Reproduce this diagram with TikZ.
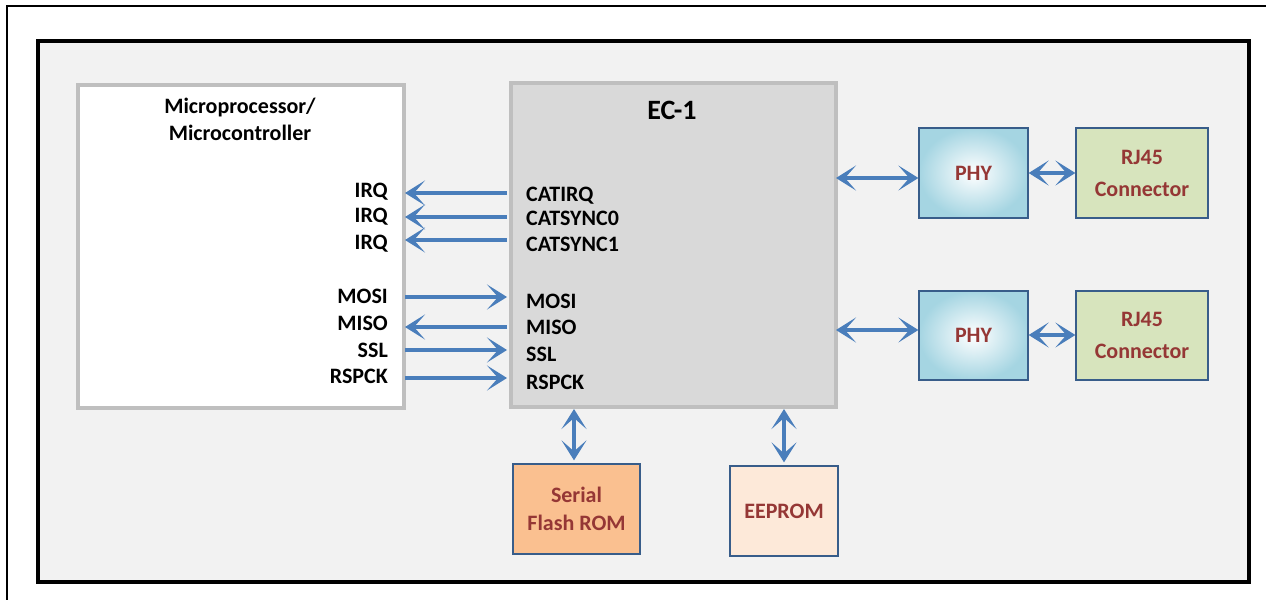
\documentclass[tikz,border=0pt]{standalone}
\usepackage{fontspec}
\setmainfont{Carlito}
\usetikzlibrary{arrows.meta}
\definecolor{arrblue}{HTML}{4A7EBB}
\definecolor{boxblue}{HTML}{385D8A}
\definecolor{txtred}{HTML}{953735}
\definecolor{edgegray}{HTML}{BFBFBF}
\definecolor{ecfill}{HTML}{D9D9D9}
\definecolor{bgfill}{HTML}{F2F2F2}
\definecolor{phyout}{HTML}{A5D5E2}
\definecolor{rjfill}{HTML}{D7E4BD}
\definecolor{romfill}{HTML}{FAC090}
\definecolor{eepfill}{HTML}{FDE9D9}
\begin{document}
\begin{tikzpicture}[x=1pt,y=-1pt,
  lbl/.style={font=\bfseries\fontsize{22}{27}\selectfont, inner sep=0pt},
  bigbox/.style={draw=edgegray, line width=4pt, inner sep=0pt},
  smallbox/.style={draw=boxblue, line width=1.3pt, inner sep=0pt, text=txtred, align=center,
     font=\bfseries\fontsize{22}{32}\selectfont},
  tip/.style={},
  arr/.style={draw=arrblue, line width=4.5pt, -{Stealth[length=20pt,width=25pt,inset=11pt]}},
  darr/.style={draw=arrblue, line width=4.5pt, {Stealth[length=20pt,width=25pt,inset=11pt]}-{Stealth[length=20pt,width=25pt,inset=11pt]}}
]
\useasboundingbox (0,0) rectangle (1266,600);
\fill[white] (0,0) rectangle (1266,600);
% outer frame
\draw[line width=2pt] (1266,6) -- (7,6) -- (7,600);
% inner frame
\draw[line width=4pt, fill=bgfill] (38,41) rectangle (1249,582);

% main boxes
\node[bigbox, fill=white, minimum width=326pt, minimum height=323pt] (mp) at (241,246.5) {};
\node[bigbox, fill=ecfill, minimum width=325pt, minimum height=324pt] (ec) at (673.5,245) {};

\node[lbl, anchor=base, align=center] (mpt) at (240,140) {Microprocessor/\\Microcontroller};
\node[lbl, anchor=base, font=\bfseries\fontsize{28}{32}\selectfont] (ect) at (672,119) {EC-1};

% small boxes
\node[smallbox, shading=radial, inner color=white, outer color=phyout, minimum width=109pt, minimum height=90pt] (phy1) at (973.5,173) {PHY};
\node[smallbox, fill=rjfill, minimum width=132pt, minimum height=90pt] (rj1) at (1142,173) {RJ45\\Connector};
\node[smallbox, shading=radial, inner color=white, outer color=phyout, minimum width=109pt, minimum height=89pt] (phy2) at (973.5,335.5) {PHY};
\node[smallbox, fill=rjfill, minimum width=132pt, minimum height=89pt] (rj2) at (1142,335.5) {RJ45\\Connector};
\node[smallbox, fill=romfill, minimum width=127pt, minimum height=90pt, font=\bfseries\fontsize{22}{28}\selectfont] (rom) at (576.5,509) {Serial\\Flash ROM};
\node[smallbox, fill=eepfill, minimum width=108pt, minimum height=90pt] (eep) at (784,511) {EEPROM};

% left labels
\node[lbl, anchor=base east] (lirq1) at (388,197) {IRQ};
\node[lbl, anchor=base east] (lirq2) at (388,222) {IRQ};
\node[lbl, anchor=base east] (lirq3) at (388,249) {IRQ};
\node[lbl, anchor=base east] (lmosi) at (388,303) {MOSI};
\node[lbl, anchor=base east] (lmiso) at (388,330) {MISO};
\node[lbl, anchor=base east] (lssl) at (388,357) {SSL};
\node[lbl, anchor=base east] (lrspck) at (388,383) {RSPCK};
% right labels
\node[lbl, anchor=base west] (rirq) at (526,201) {CATIRQ};
\node[lbl, anchor=base west] (rsync0) at (526,225) {CATSYNC0};
\node[lbl, anchor=base west] (rsync1) at (526,251) {CATSYNC1};
\node[lbl, anchor=base west] (rmosi) at (526,308) {MOSI};
\node[lbl, anchor=base west] (rmiso) at (526,334) {MISO};
\node[lbl, anchor=base west] (rssl) at (526,361) {SSL};
\node[lbl, anchor=base west] (rrspck) at (526,389) {RSPCK};

% interface arrows
\coordinate (ya) at (0,193);
\coordinate (yb) at (0,217);
\coordinate (yc) at (0,240);
\coordinate (yd) at (0,297);
\coordinate (ye) at (0,327);
\coordinate (yf) at (0,350);
\coordinate (yg) at (0,378);
\draw[arr] ([xshift=-2pt]ec.west |- ya) -- ([xshift=-1pt]mp.east |- ya);
\draw[arr] ([xshift=-2pt]ec.west |- yb) -- ([xshift=-1pt]mp.east |- yb);
\draw[arr] ([xshift=-2pt]ec.west |- yc) -- ([xshift=-1pt]mp.east |- yc);
\draw[arr] ([xshift=-1pt]mp.east |- yd) -- ([xshift=-2pt]ec.west |- yd);
\draw[arr] ([xshift=-2pt]ec.west |- ye) -- ([xshift=-1pt]mp.east |- ye);
\draw[arr] ([xshift=-1pt]mp.east |- yf) -- ([xshift=-2pt]ec.west |- yf);
\draw[arr] ([xshift=-1pt]mp.east |- yg) -- ([xshift=-2pt]ec.west |- yg);

% PHY links
\coordinate (p1) at (0,178);
\coordinate (p2) at (0,173);
\coordinate (p3) at (0,330);
\coordinate (p4) at (0,335);
\draw[darr] ([xshift=-2pt]ec.east |- p1) -- (phy1.west |- p1);
\draw[darr] (phy1.east |- p2) -- (rj1.west |- p2);
\draw[darr] ([xshift=-2pt]ec.east |- p3) -- (phy2.west |- p3);
\draw[darr] (phy2.east |- p4) -- (rj2.west |- p4);

% memory links
\coordinate (mx1) at (574,0);
\coordinate (mx2) at (784,0);
\draw[darr] (mx1 |- ec.south) -- ([yshift=3pt]mx1 |- rom.north);
\draw[darr] (mx2 |- ec.south) -- ([yshift=3pt]mx2 |- eep.north);
\end{tikzpicture}
\end{document}
